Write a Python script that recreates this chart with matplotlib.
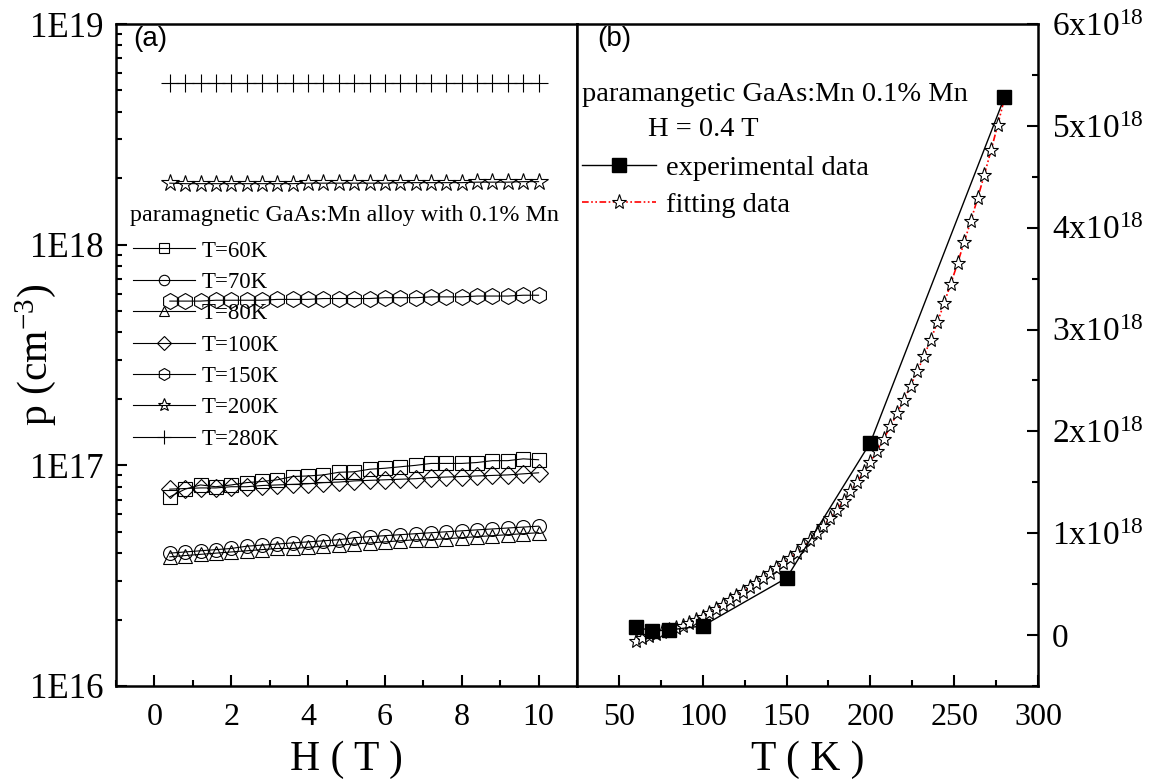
import numpy as np
import matplotlib
matplotlib.use('Agg')
import matplotlib.pyplot as plt
from matplotlib.ticker import FixedLocator, FuncFormatter, MultipleLocator, LogLocator, NullFormatter

plt.rcParams['font.family'] = 'Liberation Serif'
plt.rcParams['mathtext.fontset'] = 'custom'
plt.rcParams['mathtext.rm'] = 'Liberation Serif'
plt.rcParams['mathtext.it'] = 'Liberation Serif'
plt.rcParams['mathtext.default'] = 'rm'

# (a) p vs H at several temperatures
H = [0.4, 0.8, 1.2, 1.6, 2.0, 2.4, 2.8, 3.2, 3.6, 4.0, 4.4, 4.8, 5.2,
     5.6, 6.0, 6.4, 6.8, 7.2, 7.6, 8.0, 8.4, 8.8, 9.2, 9.6, 10.0]
p60 = [7.2, 7.8, 8.15, 8.0, 8.15, 8.35, 8.45, 8.6, 8.9, 8.95, 9.05, 9.3, 9.35,
       9.6, 9.7, 9.85, 10.0, 10.2, 10.2, 10.2, 10.3, 10.5, 10.5, 10.7, 10.6]
p70 = [4.0, 4.05, 4.1, 4.15, 4.2, 4.3, 4.35, 4.4, 4.45, 4.5, 4.55, 4.6, 4.7,
       4.75, 4.8, 4.85, 4.9, 4.95, 5.0, 5.05, 5.1, 5.15, 5.2, 5.25, 5.3]
p80 = [3.85, 3.9, 3.95, 4.0, 4.05, 4.1, 4.15, 4.2, 4.2, 4.25, 4.3, 4.35, 4.4,
       4.45, 4.5, 4.55, 4.6, 4.6, 4.65, 4.7, 4.75, 4.8, 4.85, 4.9, 4.95]
p100 = [7.8, 7.85, 7.9, 7.9, 8.0, 8.0, 8.1, 8.15, 8.2, 8.25, 8.35, 8.4, 8.5,
        8.55, 8.6, 8.65, 8.7, 8.8, 8.85, 8.9, 8.95, 9.0, 9.05, 9.15, 9.25]
p150 = [5.55, 5.55, 5.55, 5.6, 5.6, 5.6, 5.6, 5.65, 5.65, 5.65, 5.7, 5.7, 5.7,
        5.7, 5.75, 5.75, 5.75, 5.8, 5.8, 5.8, 5.85, 5.85, 5.85, 5.9, 5.9]
p200 = [1.90, 1.89, 1.89, 1.89, 1.89, 1.89, 1.89, 1.89, 1.89, 1.90, 1.90, 1.90, 1.90,
        1.90, 1.90, 1.91, 1.91, 1.91, 1.91, 1.91, 1.92, 1.92, 1.92, 1.93, 1.93]
p280 = [5.4, 5.4, 5.4, 5.4, 5.4, 5.4, 5.4, 5.4, 5.4, 5.4, 5.4, 5.4, 5.4,
        5.4, 5.4, 5.4, 5.4, 5.4, 5.4, 5.4, 5.4, 5.4, 5.4, 5.4, 5.4]

# (b) p vs T at H = 0.4 T  (units of 1e18 cm^-3)
T_exp = [60, 70, 80, 100, 150, 200, 280]
p_exp = [0.08, 0.04, 0.05, 0.09, 0.56, 1.89, 5.28]
T_fit = [60, 64, 68, 72, 76, 80, 84, 88, 92, 96, 100, 104, 108, 112, 116, 120,
         124, 128, 132, 136, 140, 144, 148, 152, 156, 160, 164, 168, 172, 176,
         180, 184, 188, 192, 196, 200, 204, 208, 212, 216, 220, 224, 228, 232,
         236, 240, 244, 248, 252, 256, 260, 264, 268, 272, 276, 280]
p_fit = [-0.06, -0.03, -0.01, 0.01, 0.03, 0.05, 0.07, 0.09, 0.12, 0.15, 0.18,
         0.22, 0.26, 0.30, 0.34, 0.38, 0.42, 0.47, 0.51, 0.56, 0.61, 0.66, 0.71,
         0.76, 0.81, 0.87, 0.93, 1.00, 1.07, 1.15, 1.23, 1.32, 1.41, 1.50, 1.60,
         1.70, 1.81, 1.93, 2.05, 2.18, 2.31, 2.45, 2.59, 2.74, 2.90, 3.07, 3.26,
         3.45, 3.65, 3.86, 4.07, 4.29, 4.52, 4.76, 5.01, 5.27]

W, HT = 1159, 783
fig = plt.figure(figsize=(W / 100, HT / 100), dpi=100)


def box(x0, x1, y0, y1):
    return [x0 / W, 1 - y1 / HT, (x1 - x0) / W, (y1 - y0) / HT]


ax1 = fig.add_axes(box(116, 577, 24, 686))
ax2 = fig.add_axes(box(577, 1038, 24, 686))

series = [('T=60K', p60, 's', 10.0, 1e16),
          ('T=70K', p70, 'o', 10.0, 1e16),
          ('T=80K', p80, '^', 10.5, 1e16),
          ('T=100K', p100, 'D', 9.5, 1e16),
          ('T=150K', p150, 'h', 11.5, 1e17),
          ('T=200K', p200, '*', 13.0, 1e18),
          ('T=280K', p280, '+', 13.0, 1e18)]
for lab, vals, mk, ms, scale in series:
    ax1.plot(H, np.array(vals) * scale, color='k', lw=0.8, marker=mk, ms=ms,
             mfc='none', mec='k', mew=0.8, label=lab)

ax1.set_yscale('log')
ax1.set_xlim(-1, 11)
ax1.set_ylim(1e16, 1e19)
ax1.yaxis.set_major_locator(FixedLocator([1e16, 1e17, 1e18, 1e19]))
ax1.yaxis.set_major_formatter(FuncFormatter(lambda v, pos: '1E%d' % round(np.log10(v))))
ax1.yaxis.set_minor_locator(LogLocator(base=10, subs=range(2, 10)))
ax1.yaxis.set_minor_formatter(NullFormatter())
ax1.xaxis.set_major_locator(MultipleLocator(2))
ax1.xaxis.set_minor_locator(MultipleLocator(1))
ax1.tick_params(which='both', direction='in', top=False, right=False, width=1.5)
ax1.tick_params(which='major', length=8)
ax1.tick_params(which='minor', length=4.5)
ax1.tick_params(axis='x', labelsize=23, pad=12)
ax1.tick_params(axis='y', labelsize=25, pad=9)
ax1.set_xlabel('H ( T )', fontsize=30)
ax1.xaxis.set_label_coords(0.5, -0.083)
ax1.set_ylabel('p (cm$^{-3}$)', fontsize=30)
ax1.yaxis.set_label_coords(-0.126, 0.5)
ax1.text(0.037, 0.997, '(a)', transform=ax1.transAxes, va='top', ha='left',
         fontsize=20, family='Liberation Sans')
ax1.text(0.03, 0.711, 'paramagnetic GaAs:Mn alloy with 0.1% Mn',
         transform=ax1.transAxes, va='center', ha='left', fontsize=17.3)
ax1.legend(loc='upper left', bbox_to_anchor=(0.037, 0.673), frameon=False,
           fontsize=16.5, handlelength=2.7, handletextpad=0.3, labelspacing=0.45,
           borderpad=0, borderaxespad=0, markerscale=0.75)

ax2.plot(T_fit, np.array(p_fit) * 1e18, color='red', lw=1.2,
         ls=(0, (4, 1.5, 1, 1.5, 1, 1.5)), marker='*', ms=11, mfc='white',
         mec='k', mew=0.8, label='fitting data', zorder=2)
ax2.plot(T_exp, np.array(p_exp) * 1e18, color='k', lw=1.0, marker='s', ms=9.5,
         mfc='k', mec='k', label='experimental data', zorder=3)
ax2.set_xlim(25, 300)
ax2.set_ylim(-0.5e18, 6e18)
ax2.xaxis.set_major_locator(MultipleLocator(50))
ax2.xaxis.set_minor_locator(MultipleLocator(25))
ax2.yaxis.set_major_locator(MultipleLocator(1e18))
ax2.yaxis.set_minor_locator(MultipleLocator(0.5e18))
ax2.yaxis.set_major_formatter(FuncFormatter(
    lambda v, pos: '0' if abs(v) < 1 else '%dx10$^{18}$' % round(v / 1e18)))
ax2.yaxis.tick_right()
ax2.tick_params(which='both', direction='in', top=False, left=False, right=True, width=1.5)
ax2.tick_params(which='major', length=8)
ax2.tick_params(which='minor', length=4.5)
ax2.tick_params(axis='x', labelsize=23, pad=12)
ax2.tick_params(axis='y', labelsize=24, pad=10)
ax2.set_xlabel('T ( K )', fontsize=30)
ax2.xaxis.set_label_coords(0.5, -0.083)
ax2.text(0.043, 0.997, '(b)', transform=ax2.transAxes, va='top', ha='left',
         fontsize=20, family='Liberation Sans')
ax2.text(0.011, 0.893, 'paramangetic GaAs:Mn 0.1% Mn', transform=ax2.transAxes,
         va='center', ha='left', fontsize=20.5)
ax2.text(0.154, 0.841, 'H = 0.4 T', transform=ax2.transAxes,
         va='center', ha='left', fontsize=20.5)
hs, ls = ax2.get_legend_handles_labels()
ax2.legend(hs[::-1], ls[::-1], loc='upper left', bbox_to_anchor=(0.011, 0.802),
           frameon=False, fontsize=20.5, handlelength=2.6, handletextpad=0.35,
           labelspacing=0.38, borderpad=0, borderaxespad=0)

for ax in (ax1, ax2):
    for s in ax.spines.values():
        s.set_linewidth(1.8)

fig.savefig('out.png', dpi=100)
